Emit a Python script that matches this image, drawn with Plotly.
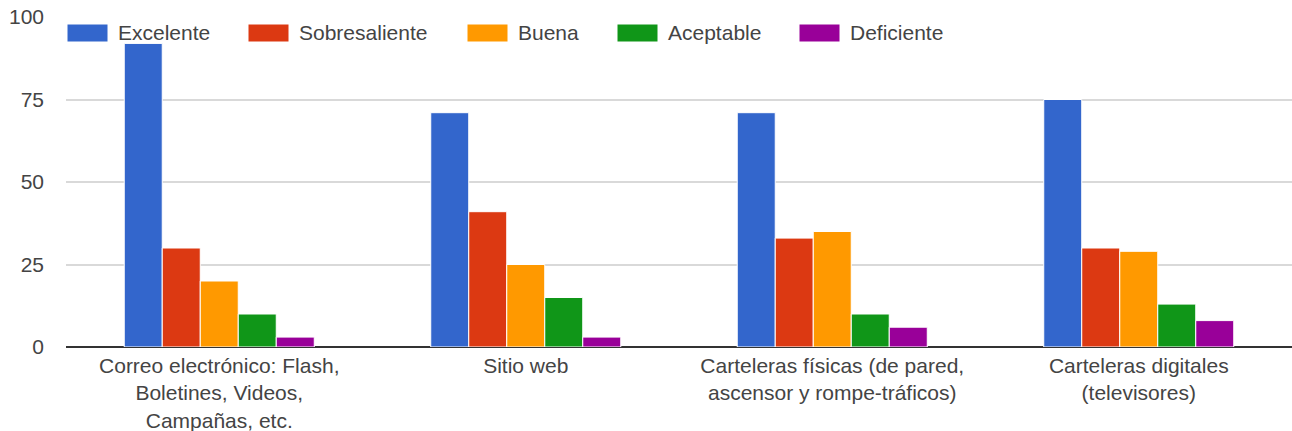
import plotly.graph_objects as go

# Categories (x axis) and ratings per category
categories = [
    "Correo electrónico: Flash,<br>Boletines, Videos,<br>Campañas, etc.",
    "Sitio web",
    "Carteleras físicas (de pared,<br>ascensor y rompe-tráficos)",
    "Carteleras digitales<br>(televisores)",
]
series_names = ["Excelente", "Sobresaliente", "Buena", "Aceptable", "Deficiente"]
excelente = [92, 71, 71, 75]
sobresaliente = [30, 41, 33, 30]
buena = [20, 25, 35, 29]
aceptable = [10, 15, 10, 13]
deficiente = [3, 3, 6, 8]
y_ticks = [0, 25, 50, 75, 100]

series_values = [excelente, sobresaliente, buena, aceptable, deficiente]
colors = ["#3366cc", "#dc3912", "#ff9900", "#109618", "#990099"]

W, H = 1292, 431
M_L, M_R, M_T, M_B = 66, 0, 17, 84
PLOT_W = W - M_L - M_R
PLOT_H = H - M_T - M_B
FONT = "Liberation Sans, Arial, sans-serif"
FONT_SIZE = 21
TEXT_COLOR = "#444444"

fig = go.Figure()
for name, vals, col in zip(series_names, series_values, colors):
    fig.add_trace(go.Bar(
        x=list(range(len(categories))),
        y=vals,
        name=name,
        marker=dict(color=col, line=dict(color="white", width=1)),
        showlegend=False,
    ))

# Custom legend across the top of the plot area: wide swatches + labels
legend_swatch_px = [67, 248, 467, 617, 799]
swatch_w, swatch_top, swatch_bot, text_gap = 41, 24, 42, 8


def px_to_paper_x(px):
    return (px - M_L) / PLOT_W


def px_to_paper_y(py):
    return (H - M_B - py) / PLOT_H


for name, col, sx in zip(series_names, colors, legend_swatch_px):
    fig.add_shape(
        type="rect", xref="paper", yref="paper",
        x0=px_to_paper_x(sx), x1=px_to_paper_x(sx + swatch_w),
        y0=px_to_paper_y(swatch_bot), y1=px_to_paper_y(swatch_top),
        fillcolor=col, line=dict(color="white", width=1), layer="above",
    )
    fig.add_annotation(
        xref="paper", yref="paper",
        x=px_to_paper_x(sx + swatch_w + text_gap),
        y=px_to_paper_y((swatch_top + swatch_bot) / 2),
        xanchor="left", yanchor="middle", showarrow=False,
        text=name, font=dict(family=FONT, size=FONT_SIZE, color=TEXT_COLOR),
    )

fig.update_layout(
    width=W, height=H,
    margin=dict(l=M_L, r=M_R, t=M_T, b=M_B, pad=0),
    paper_bgcolor="white", plot_bgcolor="white",
    barmode="group", bargap=0.38, bargroupgap=0.0,
    font=dict(family=FONT, size=FONT_SIZE, color=TEXT_COLOR),
    xaxis=dict(
        tickmode="array",
        tickvals=list(range(len(categories))),
        ticktext=categories,
        range=[-0.5, len(categories) - 0.5],
        showgrid=False, zeroline=False, showline=False,
        ticks="", ticklabelstandoff=4,
        tickfont=dict(family=FONT, size=FONT_SIZE, color=TEXT_COLOR),
    ),
    yaxis=dict(
        range=[0, 100],
        tickvals=y_ticks,
        showgrid=True, gridcolor="#d9d9d9", gridwidth=1.5,
        zeroline=True, zerolinecolor="#333333", zerolinewidth=1.5,
        showline=False, ticks="", ticklabelstandoff=21,
        tickfont=dict(family=FONT, size=FONT_SIZE, color=TEXT_COLOR),
    ),
)

fig.write_html("out.html")
